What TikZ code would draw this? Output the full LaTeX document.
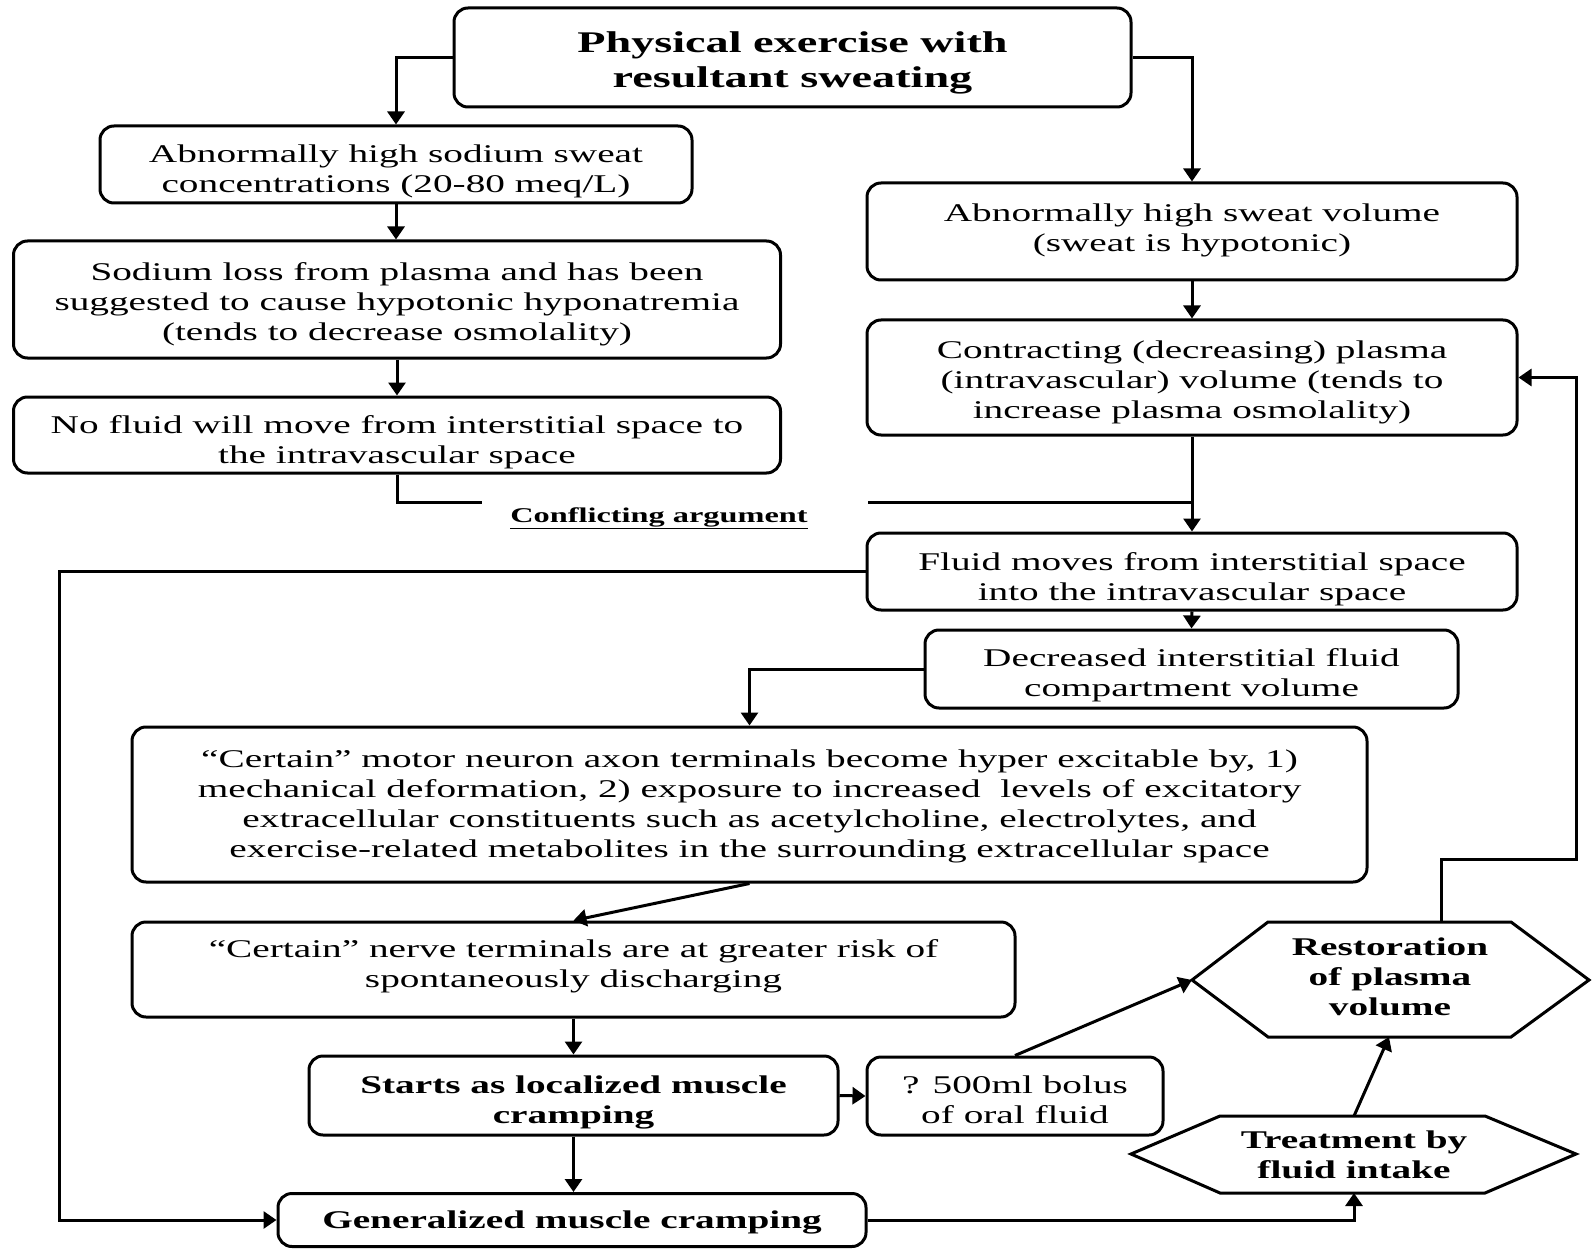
\documentclass[tikz,border=0pt]{standalone}
\usepackage{fontspec}
\setmainfont[FakeStretch=1.54]{Liberation Serif}
\usetikzlibrary{arrows.meta}

\tikzset{
  box/.style={draw, rounded corners=14pt, line width=3pt, align=center, inner sep=0pt,
    font=\fontsize{25.5}{30}\selectfont},
  bbox/.style={box, font=\fontsize{25.5}{30}\selectfont\bfseries},
  tb/.style={text height=#1, text depth=0pt},
  hexa/.style={line width=3pt},
  lbl/.style={align=center, inner sep=0pt, font=\fontsize{25.5}{30}\selectfont\bfseries},
  ln/.style={line width=3pt},
  arr/.style={ln, -{Triangle[length=13pt,width=17pt]}},
}

\begin{document}
\begin{tikzpicture}[x=1pt, y=-1pt]

  \useasboundingbox (0,0) rectangle (1593,1249);

  \newcommand\Lx{397}
  \newcommand\Rx{1192}

  % top
  \node[bbox, tb=59.4pt, minimum width=677pt, minimum height=99pt, font=\fontsize{30}{35}\selectfont\bfseries]
    (top) at (792.5,57.5) {Physical exercise with\\resultant sweating};

  % left column
  \node[box, tb=55.8pt, minimum width=592pt, minimum height=77pt] (na) at (396,164.5)
    {Abnormally high sodium sweat\\concentrations (20-80 meq/L)};
  \node[box, tb=82.4pt, minimum width=767pt, minimum height=117pt] (loss) at (\Lx,299.5)
    {Sodium loss from plasma and has been\\suggested to cause hypotonic hyponatremia\\(tends to decrease osmolality)};
  \node[box, tb=57.4pt, minimum width=767pt, minimum height=76pt] (nofl) at (\Lx,435)
    {No fluid will move from interstitial space to\\the intravascular space};

  % right column
  \node[box, tb=39.6pt, minimum width=650pt, minimum height=97pt] (vol) at (\Rx,231.5)
    {Abnormally high sweat volume\\(sweat is hypotonic)};
  \node[box, tb=82.8pt, minimum width=650pt, minimum height=115pt] (con) at (\Rx,377.5)
    {Contracting (decreasing) plasma\\(intravascular) volume (tends to\\increase plasma osmolality)};
  \node[box, tb=58.6pt, minimum width=650pt, minimum height=77pt] (mov) at (\Rx,571.5)
    {Fluid moves from interstitial space\\into the intravascular space};
  \node[box, tb=54.6pt, minimum width=533pt, minimum height=78pt] (dec) at (1191.5,669)
    {Decreased interstitial fluid\\compartment volume};

  \node[font=\fontsize{21}{25}\selectfont\bfseries] (conf) at (659,518)
    {\underline{Conflicting argument}};
  \coordinate (cfL) at (482,502);
  \coordinate (cfR) at (868,502);

  % lower part
  \node[box, tb=106.8pt, minimum width=1235pt, minimum height=155pt] (mot) at (749.5,804.5)
    {``Certain'' motor neuron axon terminals become hyper excitable by, 1)\\
     mechanical deformation, 2) exposure to increased\ \ levels of excitatory\\
     extracellular constituents such as acetylcholine, electrolytes, and\\
     exercise-related metabolites in the surrounding extracellular space};
  \node[box, tb=36.8pt, minimum width=883pt, minimum height=95pt] (ner) at (573.5,969.5)
    {``Certain'' nerve terminals are at greater risk of\\spontaneously discharging};
  \node[bbox, tb=55pt, minimum width=529pt, minimum height=79pt] (sta) at (573.5,1095.5)
    {Starts as localized muscle\\cramping};
  \node[box, tb=54pt, minimum width=296pt, minimum height=78pt] (bol) at (1015,1096)
    {? 500ml bolus\\of oral fluid};
  \node[bbox, tb=17.4pt, minimum width=588pt, minimum height=53pt] (gen) at (572,1220)
    {Generalized muscle cramping};

  % hexagons
  \draw[hexa] (1192,980) coordinate (restW) -- (1268,922) -- (1511,922) -- (1589,980)
    -- (1511,1037) -- (1268,1037) -- cycle;
  \node[lbl] (rest) at (1390,977) {Restoration\\of plasma\\volume};
  \coordinate (restS) at (1389,1037);
  \coordinate (restN) at (1441,922);

  \draw[hexa] (1131,1154) -- (1220,1116) -- (1485,1116) -- (1576,1154)
    -- (1485,1193) -- (1220,1193) -- cycle;
  \node[lbl] (treat) at (1354,1155) {Treatment by\\fluid intake};
  \coordinate (treatN) at (1354,1116);
  \coordinate (treatS) at (1354,1193);

  \coordinate (fbL) at (59,571.5);
  \coordinate (fbR) at (1576,859);

  % connectors
  \draw[arr] (top.west) -| (na.north); %% top->na
  \draw[arr] (top.east) -| (vol.north); %% top->vol
  \draw[arr] (na.south) -- (na.south |- loss.north); %% na->loss
  \draw[arr] (loss.south) -- (nofl.north); %% loss->nofl
  \draw[ln] (nofl.south) |- (cfL); %% conflicting, left
  \draw[arr] (vol.south) -- (con.north); %% vol->con
  \draw[arr] (con.south) -- (mov.north); %% con->mov
  \draw[ln] (cfR) -- (con.south |- cfR); %% conflicting, right
  \draw[arr] (mov.south) -- (dec.north); %% mov->dec
  \draw[arr] (mov.west) -- (fbL) |- (gen.west); %% mov->gen
  \draw[arr] (dec.west) -| (mot.north); %% dec->mot
  \draw[arr] (mot.south) -- (ner.north); %% mot->ner
  \draw[arr] (ner.south) -- (sta.north); %% ner->sta
  \draw[arr] (sta.south) -- (sta.south |- gen.north); %% sta->gen
  \draw[arr] (sta.east) -- (bol.west); %% sta->bol
  \draw[arr] (bol.north) -- (restW); %% bol->rest
  \draw[arr] (treatN) -- (restS); %% treat->rest
  \draw[arr] (gen.east) -| (treatS); %% gen->treat
  \draw[arr] (restN) |- (fbR) |- (con.east); %% rest->con

\end{tikzpicture}
\end{document}
